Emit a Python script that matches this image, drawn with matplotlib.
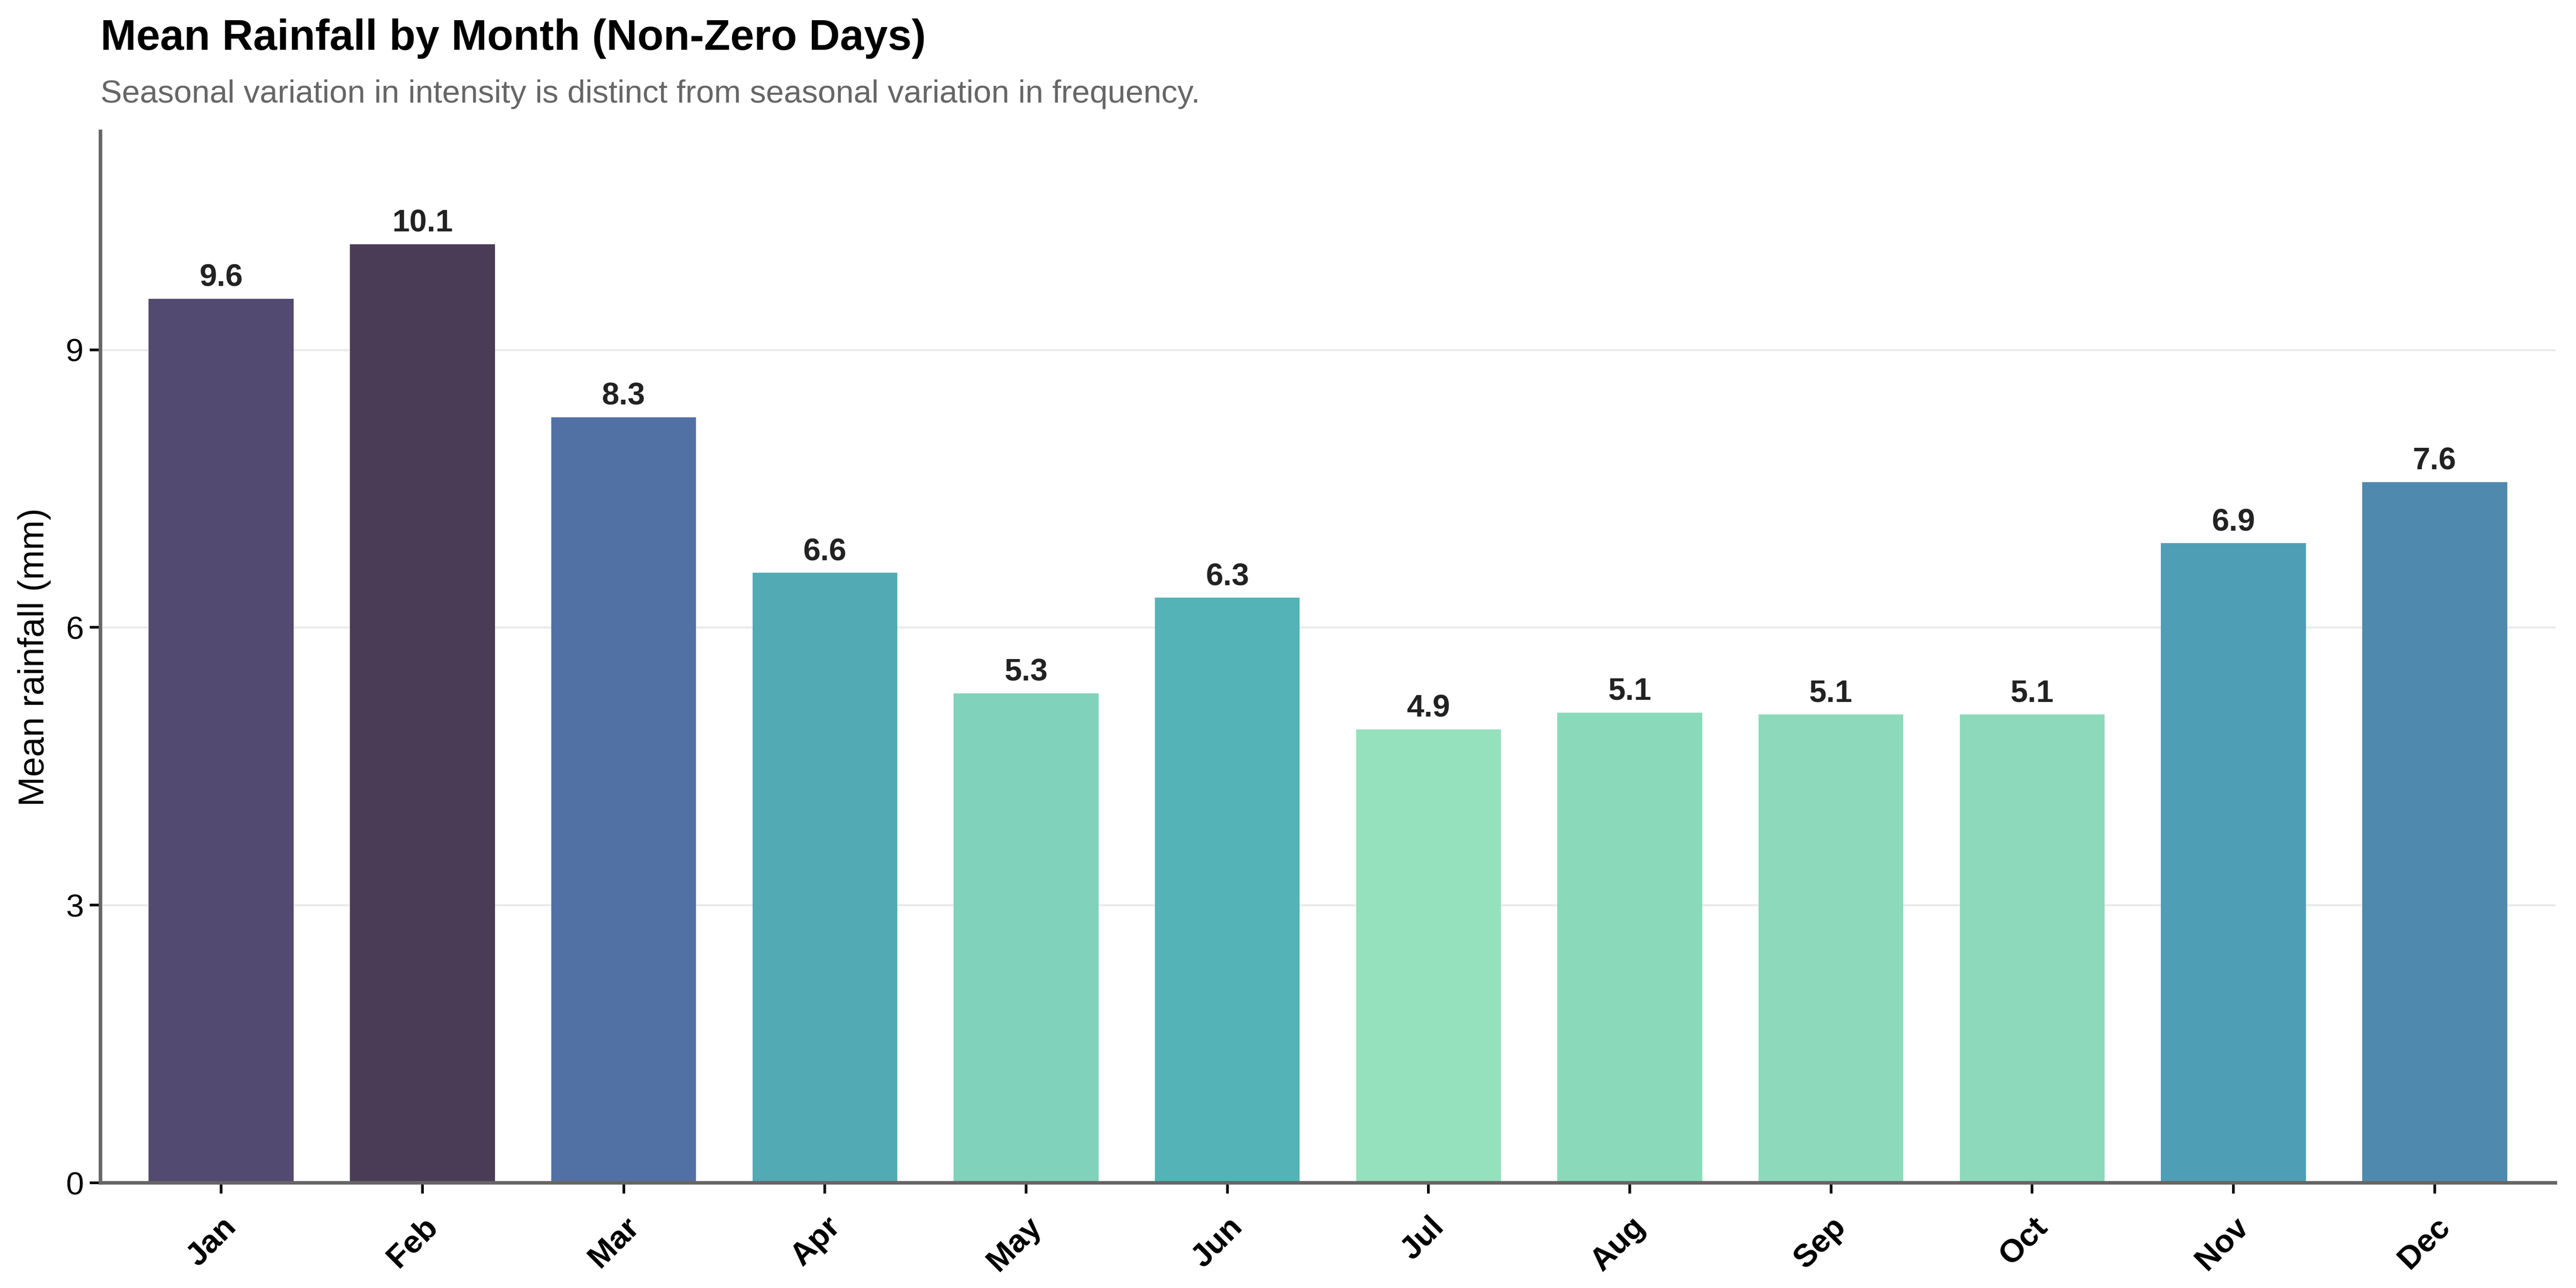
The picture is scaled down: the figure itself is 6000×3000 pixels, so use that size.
import numpy as np
import matplotlib
matplotlib.use('Agg')
import matplotlib.pyplot as plt

plt.rcParams['font.family'] = ['Liberation Sans', 'DejaVu Sans']

months = ['Jan', 'Feb', 'Mar', 'Apr', 'May', 'Jun', 'Jul', 'Aug', 'Sep', 'Oct', 'Nov', 'Dec']
mean_rain = [9.55, 10.14, 8.27, 6.59, 5.29, 6.32, 4.90, 5.08, 5.06, 5.06, 6.91, 7.57]
bar_colors = ['#524a70', '#4a3c56', '#5171a5', '#52aab5', '#80d3ba', '#54b3b6',
              '#95e0bd', '#8bd9bb', '#8dd9bb', '#8dd9bb', '#4e9fb5', '#5089ae']

title = 'Mean Rainfall by Month (Non-Zero Days)'
subtitle = 'Seasonal variation in intensity is distinct from seasonal variation in frequency.'

fig = plt.figure(figsize=(20, 10), dpi=300)
ax = fig.add_axes([0.039, 0.0816, 0.953, 0.8165])

x = np.arange(len(months))
bars = ax.bar(x, mean_rain, width=0.72, color=bar_colors, zorder=2)

for xi, v in zip(x, mean_rain):
    ax.text(xi, v + 0.07, f'{v:.1f}', ha='center', va='bottom',
            fontsize=17.5, fontweight='bold', color='#222222')

ax.set_xlim(-0.6, len(months) - 0.4)
ax.set_ylim(0, 11.36)
ax.set_yticks([0, 3, 6, 9])
ax.set_xticks(x)
ax.set_xticklabels(months, rotation=45, ha='right', rotation_mode='anchor',
                   fontsize=18, fontweight='bold')
ax.tick_params(axis='y', labelsize=18, length=6, width=1.5, color='black')
ax.tick_params(axis='x', length=6, width=1.5, color='black', pad=10)
ax.set_ylabel('Mean rainfall (mm)', fontsize=20, labelpad=8)

ax.grid(axis='y', color='#ebebeb', linewidth=1.2, zorder=0)
ax.set_axisbelow(True)
for s in ['top', 'right']:
    ax.spines[s].set_visible(False)
for s in ['left', 'bottom']:
    ax.spines[s].set_color('#666666')
    ax.spines[s].set_linewidth(2)

fig.text(0.039, 0.970, title, fontsize=24, fontweight='bold', ha='left', va='center')
fig.text(0.039, 0.927, subtitle, fontsize=18, color='#666666', ha='left', va='center')

fig.savefig('out.png', dpi=300)
